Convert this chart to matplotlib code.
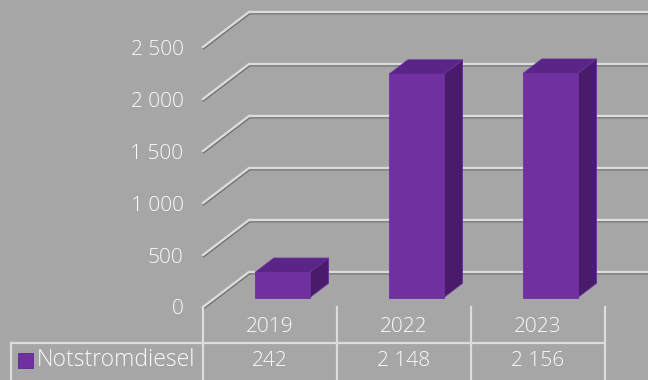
import matplotlib.pyplot as plt
import matplotlib.patheffects as pe
from matplotlib.patches import Polygon, Rectangle
from matplotlib.transforms import blended_transform_factory
import numpy as np

years = ['2019', '2022', '2023']
values = [242, 2148, 2156]
series_name = 'Notstromdiesel'
yticks = [0, 500, 1000, 1500, 2000, 2500]

bg = '#A6A6A6'
front_col = '#7030A0'
side_col = '#481C6A'
top_col = '#5A2587'
grid_col = '#DCDCDC'
txt_col = '#FAFAFA'

plt.rcParams['font.family'] = ['Open Sans', 'DejaVu Sans']
plt.rcParams['font.weight'] = 'light'


def fmt(v):
    return f'{v:,}'.replace(',', '\u00a0')


fig = plt.figure(figsize=(6.48, 3.8), dpi=100, facecolor=bg)

# overlay in pixel units for the data table underneath
tab = fig.add_axes([0, 0, 1, 1])
tab.set_xlim(0, 648)
tab.set_ylim(380, 0)
tab.axis('off')

ax = fig.add_axes([203 / 648, 73 / 380, 445 / 648, 307 / 380])
ax.set_facecolor('none')
ax.set_xlim(-0.5, 2.821)
ax.set_ylim(0, 2952)
for s in ax.spines.values():
    s.set_visible(False)
ax.set_xticks([])
ax.set_yticks(yticks)
ax.set_yticklabels([fmt(t) for t in yticks])
ax.tick_params(axis='y', length=0, pad=14, labelsize=15, labelcolor=txt_col)

# depth of the floor in data units
DX = 0.343
DY = 336.5
shadow = [pe.SimpleLineShadow(offset=(0.4, -0.9), shadow_color='#6A6A6A', alpha=0.9), pe.Normal()]

for t in yticks:
    ax.plot([-0.5, -0.5 + DX, 3.5], [t, t + DY, t + DY], color=grid_col, lw=1.7,
            solid_joinstyle='miter', clip_on=False, zorder=1, path_effects=shadow)

# 3d bars
w = 0.408
f0, f1 = 0.27, 0.68
ddx = (f1 - f0) * DX
ddy = (f1 - f0) * DY
for i, v in enumerate(values):
    x0 = i + f0 * DX - w / 2
    x1 = x0 + w
    y0 = f0 * DY
    y1 = y0 + v
    face = Rectangle((x0, y0), w, v, facecolor=front_col, edgecolor=front_col, lw=0.6, zorder=3)
    side = Polygon([(x1, y0), (x1, y1), (x1 + ddx, y1 + ddy), (x1 + ddx, y0 + ddy)],
                   closed=True, facecolor=side_col, edgecolor='#6A2E9C', lw=0.6, zorder=2)
    top = Polygon([(x0, y1), (x1, y1), (x1 + ddx, y1 + ddy), (x0 + ddx, y1 + ddy)],
                  closed=True, facecolor=top_col, edgecolor='#6A2E9C', lw=0.6, zorder=2)
    for p in (side, top, face):
        ax.add_patch(p)

# data table
tr = blended_transform_factory(ax.transData, tab.transData)
line_kw = dict(color=grid_col, lw=1.6, clip_on=False, transform=tr, zorder=1)
for b in np.arange(len(years) + 1) - 0.5:
    ax.plot([b, b], [307, 381], **line_kw)
tab.plot([11, 11], [343, 381], color=grid_col, lw=1.6, clip_on=False)
tab.plot([11, 203], [343, 343], color=grid_col, lw=1.6, clip_on=False)
ax.plot([-0.5, len(years) - 0.5], [343, 343], **line_kw)

for i, (yr, v) in enumerate(zip(years, values)):
    ax.text(i, 327, yr, transform=tr, ha='center', va='center', fontsize=15, color=txt_col)
    ax.text(i, 361, fmt(v), transform=tr, ha='center', va='center', fontsize=15, color=txt_col)

tab.add_patch(Rectangle((18, 353), 15, 15, facecolor=front_col, edgecolor='#5E2890', lw=0.6))
tab.text(37, 360, series_name, ha='left', va='center', fontsize=16.5, color=txt_col)

fig.savefig('out.png', dpi=100, facecolor=bg)
